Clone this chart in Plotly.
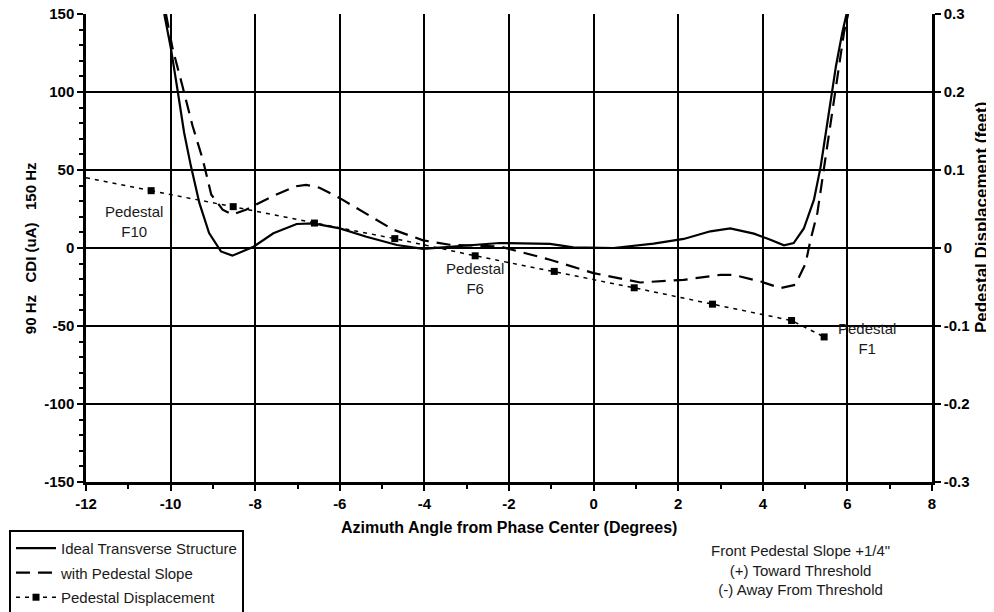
import plotly.graph_objects as go

# ---- data ----
ideal_x = [-10.15, -9.99, -9.84, -9.68, -9.52, -9.32, -9.09, -8.81, -8.54, -8.22, -8.04, -7.57,
           -7.02, -6.63, -6.0, -5.37, -4.65, -4.03, -3.40, -2.22, -1.03, -0.48, 0.47, 1.42, 2.13,
           2.76, 3.23, 3.79, 4.18, 4.50, 4.73, 4.97, 5.21, 5.37, 5.49, 5.61, 5.73, 5.88, 5.98, 6.02]
ideal_y = [150, 127.5, 101.9, 73.9, 52.5, 28.9, 9.6, -2.2, -4.9, -1.1, 0.8, 9.4,
           15.4, 15.8, 12.6, 7.2, 1.9, -0.6, 0.6, 3.2, 2.6, 0.4, 0.0, 2.8, 5.8,
           10.7, 12.6, 9.2, 5.3, 1.7, 3.2, 12.5, 31.0, 52.5, 73.9, 95.3, 116.7, 138.2, 150, 158]

slope_x = [-10.11, -9.95, -9.72, -9.48, -9.24, -9.04, -8.89, -8.77, -8.54, -8.22, -7.59, -7.03,
           -6.80, -6.48, -6.01, -5.46, -4.74, -4.03, -3.40, -2.22, -1.03, 0.0, 1.10, 2.13, 3.0,
           3.31, 3.95, 4.42, 4.77, 5.01, 5.13, 5.29, 5.45, 5.56, 5.68, 5.80, 5.92, 6.01, 6.05]
slope_y = [150, 127.5, 103.9, 78.2, 56.8, 34.3, 28.9, 24.6, 21.4, 24.5, 33.2, 39.6,
           40.5, 38.6, 32.1, 23.5, 11.8, 4.9, 2.1, 1.0, -7.5, -16.1, -22.1, -20.4, -17.2,
           -17.2, -21.5, -25.7, -23.6, -10.0, 5.3, 22.5, 52.5, 73.9, 95.3, 116.7, 138.2, 149, 158]

ped_x = [-10.46, -8.52, -6.60, -4.70, -2.80, -0.93, 0.96, 2.81, 4.68, 5.45]
ped_y = [0.0735, 0.053, 0.032, 0.012, -0.010, -0.030, -0.051, -0.072, -0.093, -0.114]
trend_start_x = -12
trend_start_y = 0.090

ped_labels = ["Pedestal<br>F10", "Pedestal<br>F6", "Pedestal<br>F1"]
ped_label_x = [-10.87, -2.81, 6.47]
ped_label_y = [16.9, -19.7, -58.3]

x_ticks = list(range(-12, 9, 2))
x_ticklabels = ["-12", "-10", "-8", "-6", "-4", "-2", "0", "2", "4", "6", "8"]
y_ticks = [-150, -100, -50, 0, 50, 100, 150]
y_ticklabels = ["-150", "-100", "-50", "0", "50", "100", "150"]
y2_ticks = [-0.3, -0.2, -0.1, 0, 0.1, 0.2, 0.3]
y2_ticklabels = ["-0.3", "-0.2", "-0.1", "0", "0.1", "0.2", "0.3"]

FONT = "Liberation Sans, Arial, sans-serif"
TICKFONT = dict(family=FONT, size=15, color="black", weight="bold")
TITLEFONT = dict(family=FONT, size=16, color="black", weight="bold")
TEXTFONT = dict(family=FONT, size=15, color="#1a1a1a")

fig = go.Figure()

fig.add_trace(go.Scatter(x=ideal_x, y=ideal_y, mode="lines", name="Ideal Transverse Structure",
                         legendgroup="a", line=dict(color="black", width=2.2)))
fig.add_trace(go.Scatter(x=slope_x, y=slope_y, mode="lines", name="with Pedestal Slope",
                         legendgroup="b", line=dict(color="black", width=2.2, dash="14px,8px")))
fig.add_trace(go.Scatter(x=[trend_start_x, ped_x[0]], y=[trend_start_y, ped_y[0]], mode="lines",
                         yaxis="y2", showlegend=False, hoverinfo="skip", legendgroup="c",
                         line=dict(color="black", width=1.5, dash="4px,5px")))
fig.add_trace(go.Scatter(x=ped_x, y=ped_y, mode="lines+markers", name="Pedestal Displacement",
                         yaxis="y2", legendgroup="c",
                         line=dict(color="black", width=1.5, dash="4px,5px"),
                         marker=dict(symbol="square", size=7, color="black")))

for t, xx, yy in zip(ped_labels, ped_label_x, ped_label_y):
    fig.add_annotation(x=xx, y=yy, text=t, showarrow=False, xref="x", yref="y",
                       font=TEXTFONT, align="center")

# axis titles
fig.add_annotation(text="Azimuth Angle from Phase Center (Degrees)", x=0.5, y=-0.098,
                   xref="paper", yref="paper", showarrow=False, xanchor="center", yanchor="middle",
                   font=TITLEFONT)
fig.add_annotation(text="90 Hz\u00a0\u00a0 CDI (uA)\u00a0\u00a0 150 Hz", x=-0.066, y=0.5,
                   xref="paper", yref="paper", showarrow=False, textangle=-90,
                   xanchor="center", yanchor="middle",
                   font=dict(family=FONT, size=15, color="black", weight="bold"))
fig.add_annotation(text="Pedestal Displacement (feet)", x=1.058, y=0.564,
                   xref="paper", yref="paper", showarrow=False, textangle=-90,
                   xanchor="center", yanchor="middle",
                   font=dict(family=FONT, size=17, color="black", weight="bold"))
fig.add_annotation(text="Front Pedestal Slope +1/4\"<br>(+) Toward Threshold<br>(-) Away From Threshold",
                   x=0.844, y=-0.188, xref="paper", yref="paper", showarrow=False,
                   xanchor="center", yanchor="middle", align="center", font=TEXTFONT)

fig.update_layout(
    template="none",
    width=986, height=604,
    margin=dict(l=78, r=62, t=6, b=130, autoexpand=False),
    paper_bgcolor="white", plot_bgcolor="white",
    font=dict(family=FONT, color="black"),
    showlegend=True,
    legend=dict(x=-0.091, y=-0.1025, xanchor="left", yanchor="top",
                bordercolor="black", borderwidth=2, bgcolor="white",
                font=TEXTFONT, tracegroupgap=2, itemwidth=40),
    xaxis=dict(range=[-12, 8], tickvals=x_ticks, ticktext=x_ticklabels,
               showgrid=True, gridcolor="black", gridwidth=1.6, ticklabeloverflow="allow",
               zeroline=False, showline=True, linecolor="black", linewidth=2.5, automargin=False,
               ticks="outside", ticklen=6, tickwidth=2, tickcolor="black",
               minor=dict(dtick=1, ticks="outside", ticklen=4, tickwidth=2, tickcolor="black", showgrid=False),
               tickfont=TICKFONT),
    yaxis=dict(range=[-150, 150], tickvals=y_ticks, ticktext=y_ticklabels,
               showgrid=True, gridcolor="black", gridwidth=1.6, ticklabeloverflow="allow",
               zeroline=False, showline=True, linecolor="black", linewidth=2.5, automargin=False,
               ticks="outside", ticklen=6, tickwidth=2, tickcolor="black",
               minor=dict(dtick=10, ticks="outside", ticklen=4, tickwidth=2, tickcolor="black", showgrid=False),
               tickfont=TICKFONT),
    yaxis2=dict(range=[-0.3, 0.3], overlaying="y", side="right", tickvals=y2_ticks,
                ticktext=y2_ticklabels, showgrid=False, zeroline=False, showline=True, automargin=False,
                ticklabeloverflow="allow",
                linecolor="black", linewidth=2.5, ticks="outside", ticklen=6, tickwidth=2,
                tickcolor="black", tickfont=TICKFONT),
)

fig.write_html("out.html")
